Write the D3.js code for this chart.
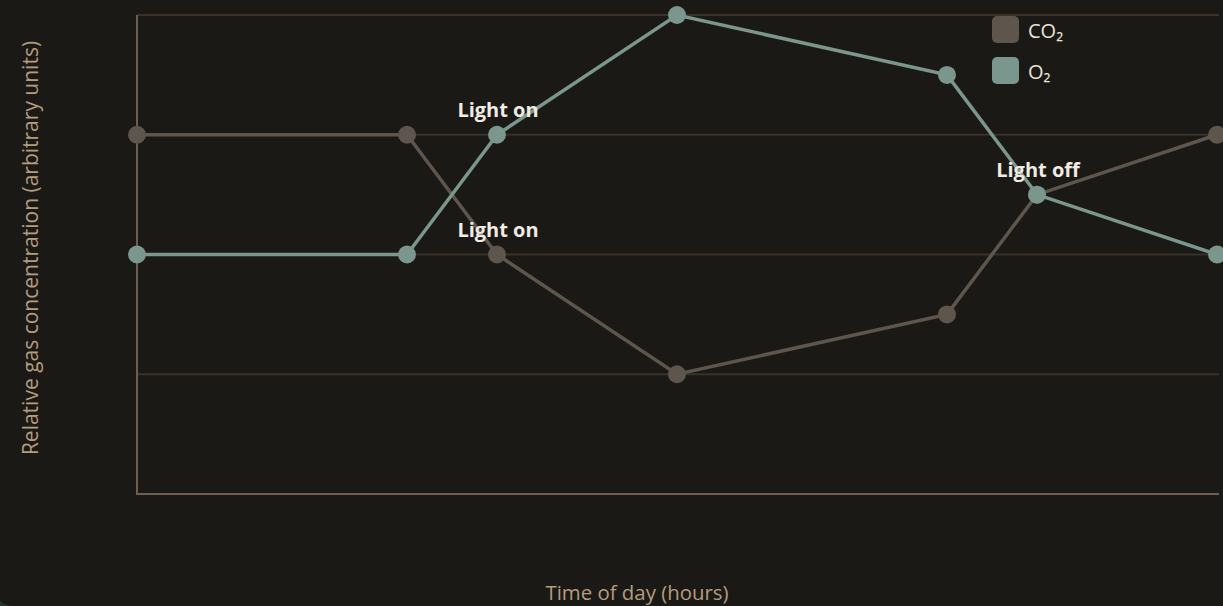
<!DOCTYPE html>
<html>
<head>
<meta charset="utf-8">
<script src="https://cdn.jsdelivr.net/npm/d3@7"></script>
<style>
  html, body { margin: 0; padding: 0; width: 1223px; height: 606px; overflow: hidden; background: #23352a; }
  #card { position: absolute; left: -5px; top: -30px; width: 1260px; height: 636px; background: #1b1916; border-radius: 18px; }
  svg { position: absolute; left: 0; top: 0; font-family: "Open Sans", sans-serif; }
</style>
</head>
<body>
<div id="card"></div>
<svg id="chart" width="1223" height="606"></svg>
<script>
const hours = [0, 6, 8, 12, 18, 20, 24];
const co2 = [3, 3, 2, 1, 1.5, 2.5, 3];
const o2 = [2, 2, 3, 4, 3.5, 2.5, 2];
const seriesNames = ["CO₂", "O₂"];
const seriesColors = ["#5e554d", "#7a968d"];
const gridTicks = [1, 2, 3, 4];
const annotations = [
  { label: "Light on", series: 1, index: 2 },
  { label: "Light on", series: 0, index: 2 },
  { label: "Light off", series: 1, index: 5 }
];

const svg = d3.select("#chart");
const x = d3.scaleLinear().domain([0, 24]).range([137, 1217]);
const y = d3.scaleLinear().domain([0, 4]).range([494, 15]);

// gridlines
svg.append("g").selectAll("line").data(gridTicks).join("line")
  .attr("x1", x(0)).attr("x2", x(24) + 2)
  .attr("y1", d => y(d)).attr("y2", d => y(d))
  .attr("stroke", "#3a3129").attr("stroke-width", 2);

// axis lines
svg.append("line").attr("x1", x(0)).attr("x2", x(0)).attr("y1", y(4)).attr("y2", y(0))
  .attr("stroke", "#6c5f4f").attr("stroke-width", 2);
svg.append("line").attr("x1", x(0) - 1).attr("x2", x(24) + 2).attr("y1", y(0)).attr("y2", y(0))
  .attr("stroke", "#6c5f4f").attr("stroke-width", 2);

const data = [co2, o2].map(vals => hours.map((h, i) => ({ h, v: vals[i] })));
const line = d3.line().x(d => x(d.h)).y(d => y(d.v));

data.forEach((pts, s) => {
  svg.append("path").datum(pts).attr("d", line)
    .attr("fill", "none").attr("stroke", seriesColors[s]).attr("stroke-width", 3.5);
  svg.append("g").selectAll("circle").data(pts).join("circle")
    .attr("cx", d => x(d.h)).attr("cy", d => y(d.v)).attr("r", 9)
    .attr("fill", seriesColors[s]);
});

// annotations
svg.append("g").selectAll("text").data(annotations).join("text")
  .attr("x", d => x(hours[d.index]) + 1)
  .attr("y", d => y(data[d.series][d.index].v) - 18)
  .attr("text-anchor", "middle")
  .attr("font-size", 20).attr("font-weight", "bold").attr("fill", "#f0ebe3")
  .text(d => d.label);

// legend
const lg = svg.append("g").attr("transform", "translate(992,16)");
seriesNames.forEach((n, i) => {
  lg.append("rect").attr("x", 0).attr("y", i * 41).attr("width", 27).attr("height", 27)
    .attr("rx", 5).attr("fill", seriesColors[i]);
  lg.append("text").attr("x", 36).attr("y", i * 41 + 22).attr("font-size", 20)
    .attr("fill", "#e9e3da").text(n);
});

// axis titles
svg.append("text").attr("x", 637).attr("y", 600).attr("text-anchor", "middle")
  .attr("font-size", 20.4).attr("fill", "#b39d7e").text("Time of day (hours)");
svg.append("text").attr("transform", "translate(38,248) rotate(-90)").attr("text-anchor", "middle")
  .attr("font-size", 21).attr("fill", "#b39d7e").text("Relative gas concentration (arbitrary units)");
</script>
</body>
</html>
